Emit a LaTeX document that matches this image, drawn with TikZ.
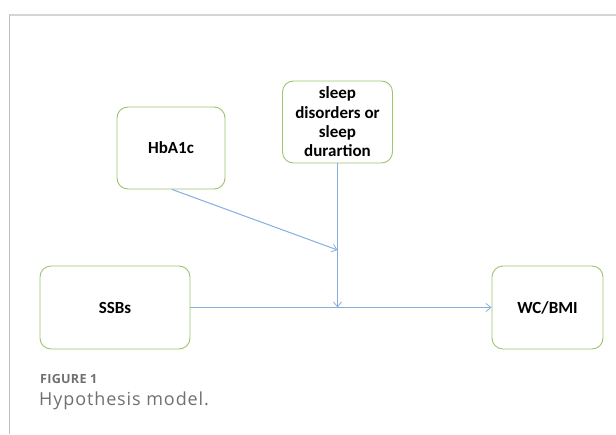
\documentclass[tikz,border=0pt]{standalone}
\usepackage{fontspec}
\setmainfont{Carlito}
\newfontfamily\capfont{Open Sans}
\usetikzlibrary{arrows.meta}
\definecolor{boxgreen}{HTML}{9CC56E}
\definecolor{linkblue}{HTML}{86AEE0}
\definecolor{framegray}{HTML}{D4D4D4}
\definecolor{capgray}{HTML}{707070}
\tikzset{
  varbox/.style={draw=boxgreen, line width=0.9pt, rounded corners=11pt, fill=white,
    align=center, font=\bfseries\fontsize{17}{19.3}\selectfont, inner sep=0pt},
  link/.style={draw=linkblue, line width=1pt, -{Straight Barb[length=5pt,width=8pt,line width=0.8pt]}}
}
\begin{document}
\begin{tikzpicture}[x=1pt,y=-1pt]
\useasboundingbox (0,0) rectangle (616,434);
% panel frame
\draw[framegray, line width=1.4pt] (9,15) -- (616,15);
\draw[framegray!90!black, line width=1pt] (9,15) -- (9,434);
% variables
\node[varbox, minimum width=108pt, minimum height=82pt] (hba) at (171,148) {HbA1c};
\node[varbox, minimum width=110pt, minimum height=82pt] (sleep) at (337.5,122) {sleep\\disorders or\\sleep\\durartion};
\node[varbox, minimum width=150pt, minimum height=83pt] (ssb) at (115,307.5) {SSBs};
\node[varbox, minimum width=111pt, minimum height=83pt] (wc) at (547.5,307.5) {WC/BMI};
% moderation points
\coordinate (m1) at (337.5,250);
\coordinate (m2) at (337.5,307.5);
% links
\draw[link] (ssb.east) -- (wc.west);
\draw[link] (sleep.south) -- (m2);
\draw[link] (hba.south) ++(1,0) -- (m1);
% caption
\node[anchor=west, inner sep=0pt, text=capgray, font=\capfont\bfseries\fontsize{12.6}{14}\selectfont\addfontfeature{LetterSpace=2}] (figlabel) at (40,379) {FIGURE 1};
\node[anchor=west, inner sep=0pt, text=capgray, font=\capfont\fontsize{18}{21}\selectfont\addfontfeature{LetterSpace=5}] (figtitle) at (39,401) {Hypothesis model.};
\end{tikzpicture}
\end{document}
